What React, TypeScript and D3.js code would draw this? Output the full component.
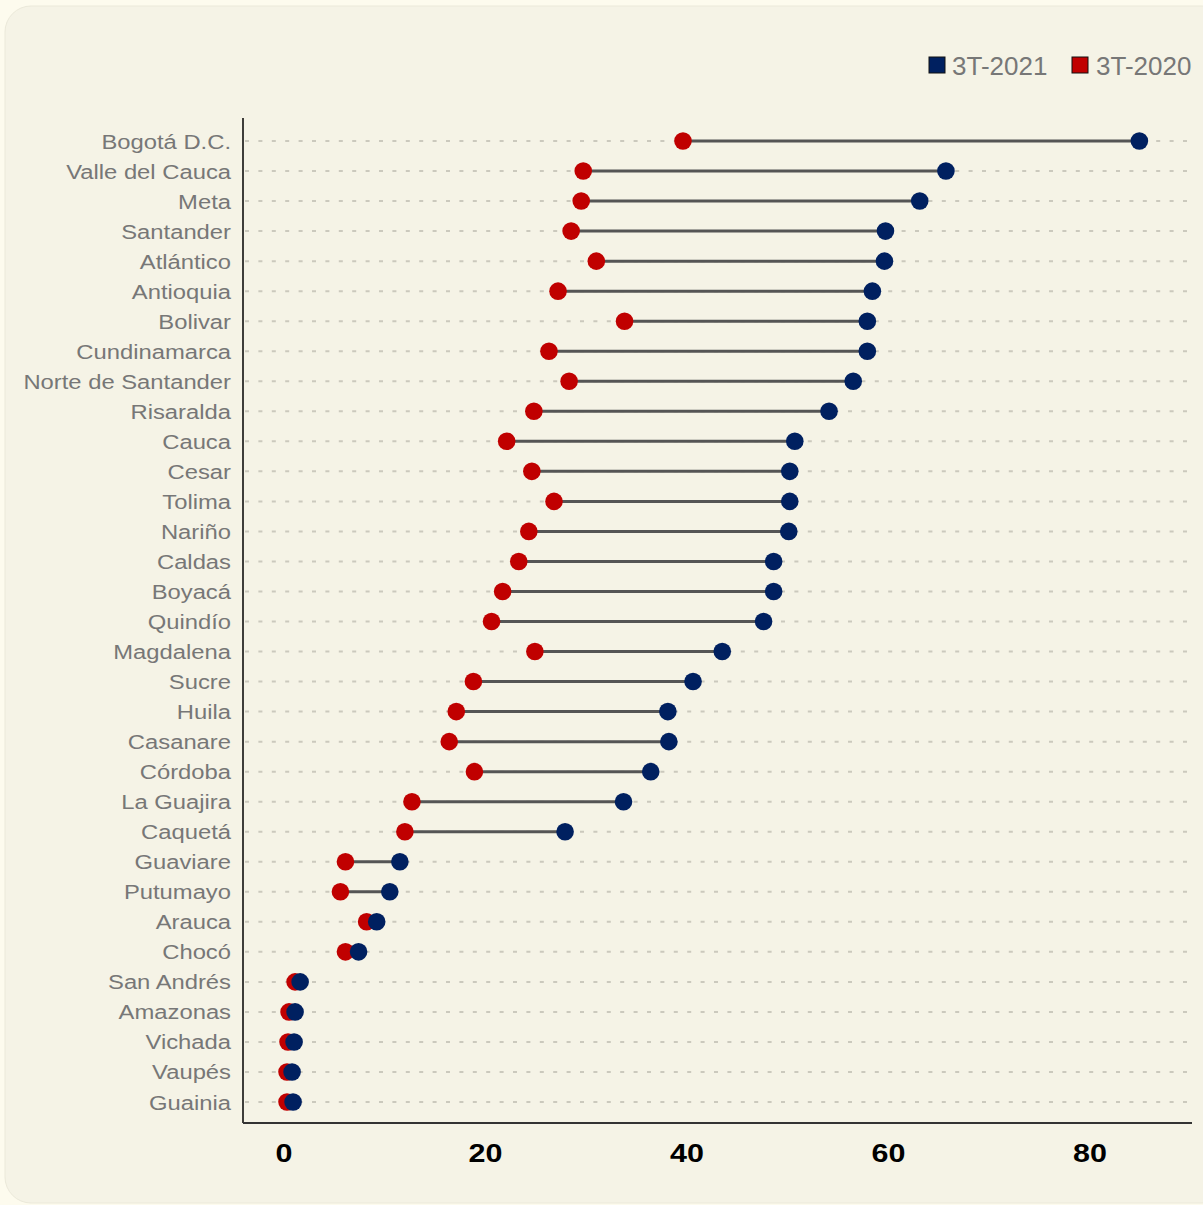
import React from "react";
import * as d3 from "d3";

const departments = [
  "Bogotá D.C.", "Valle del Cauca", "Meta", "Santander", "Atlántico", "Antioquia",
  "Bolivar", "Cundinamarca", "Norte de Santander", "Risaralda", "Cauca", "Cesar",
  "Tolima", "Nariño", "Caldas", "Boyacá", "Quindío", "Magdalena", "Sucre", "Huila",
  "Casanare", "Córdoba", "La Guajira", "Caquetá", "Guaviare", "Putumayo", "Arauca",
  "Chocó", "San Andrés", "Amazonas", "Vichada", "Vaupés", "Guainia",
];

const values2021 = [
  84.9, 65.7, 63.1, 59.7, 59.6, 58.4, 57.9, 57.9, 56.5, 54.1, 50.7, 50.2, 50.2,
  50.1, 48.6, 48.6, 47.6, 43.5, 40.6, 38.1, 38.2, 36.4, 33.7, 27.9, 11.5, 10.5,
  9.2, 7.4, 1.6, 1.1, 1.0, 0.8, 0.9,
];

const values2020 = [
  39.6, 29.7, 29.5, 28.5, 31.0, 27.2, 33.8, 26.3, 28.3, 24.8, 22.1, 24.6, 26.8,
  24.3, 23.3, 21.7, 20.6, 24.9, 18.8, 17.1, 16.4, 18.9, 12.7, 12.0, 6.1, 5.6,
  8.2, 6.1, 1.1, 0.5, 0.4, 0.3, 0.3,
];

const xTicks = [0, 20, 40, 60, 80];
const seriesNames = ["3T-2021", "3T-2020"];

const BLUE = "#002060";
const RED = "#c00000";

export default function App() {
  const W = 1203;
  const H = 1205;
  const x = d3.scaleLinear().domain([0, 80]).range([284, 1090]);
  const y = d3.scalePoint<string>().domain(departments).range([141, 1102]);
  const axisLeft = 243;
  const axisBottom = 1123;
  const labelFont = "'Liberation Sans', Arial, sans-serif";

  return (
    <svg
      width={W}
      height={H}
      style={{ position: "absolute", left: 0, top: 0, display: "block" }}
    >
      <rect x={0} y={0} width={W} height={H} fill="#fdfbee" />
      <rect x={5} y={6} width={W + 20} height={1197} rx={26} ry={26} fill="#f5f3e6" stroke="#ebe9da" strokeWidth={1} />

      {/* gridlines */}
      {departments.map((d) => (
        <line
          key={"g" + d}
          x1={axisLeft + 2}
          x2={1192}
          y1={y(d)}
          y2={y(d)}
          stroke="#cbc9bd"
          strokeWidth={2}
          strokeDasharray="4 9.4"
        />
      ))}

      {/* axes */}
      <line x1={axisLeft} x2={axisLeft} y1={118} y2={axisBottom} stroke="#000" strokeWidth={1.5} />
      <line x1={axisLeft} x2={1192} y1={axisBottom} y2={axisBottom} stroke="#333" strokeWidth={2} />

      {/* category labels */}
      {departments.map((d) => (
        <text
          key={"l" + d}
          transform={`translate(231, ${(y(d) as number) + 7.5}) scale(1.19, 1)`}
          x={0}
          y={0}
          textAnchor="end"
          fontFamily={labelFont}
          fontSize={20}
          fill="#777777"
        >
          {d}
        </text>
      ))}

      {/* x tick labels */}
      {xTicks.map((t) => (
        <text
          key={"t" + t}
          transform={`translate(${x(t)}, 1162) scale(1.15, 1)`}
          x={0}
          y={0}
          textAnchor="middle"
          fontFamily={labelFont}
          fontWeight="bold"
          fontSize={26.5}
          fill="#000"
        >
          {t}
        </text>
      ))}

      {/* connectors */}
      {departments.map((d, i) => (
        <line
          key={"c" + d}
          x1={x(values2020[i])}
          x2={x(values2021[i])}
          y1={y(d)}
          y2={y(d)}
          stroke="#555555"
          strokeWidth={3}
        />
      ))}

      {/* dots 2020 */}
      {departments.map((d, i) => (
        <circle key={"r" + d} cx={x(values2020[i])} cy={y(d)} r={8.8} fill={RED} />
      ))}
      {/* dots 2021 */}
      {departments.map((d, i) => (
        <circle key={"b" + d} cx={x(values2021[i])} cy={y(d)} r={8.8} fill={BLUE} />
      ))}

      {/* legend */}
      <g>
        <rect x={929} y={57} width={16} height={16} fill={BLUE} stroke="#111" strokeWidth={1} />
        <text transform="translate(952, 75) scale(1.04, 1)" x={0} y={0} fontFamily={labelFont} fontSize={25} fill="#777777">
          {seriesNames[0]}
        </text>
        <rect x={1072} y={57} width={16} height={16} fill={RED} stroke="#111" strokeWidth={1} />
        <text transform="translate(1096, 75) scale(1.04, 1)" x={0} y={0} fontFamily={labelFont} fontSize={25} fill="#777777">
          {seriesNames[1]}
        </text>
      </g>
    </svg>
  );
}
